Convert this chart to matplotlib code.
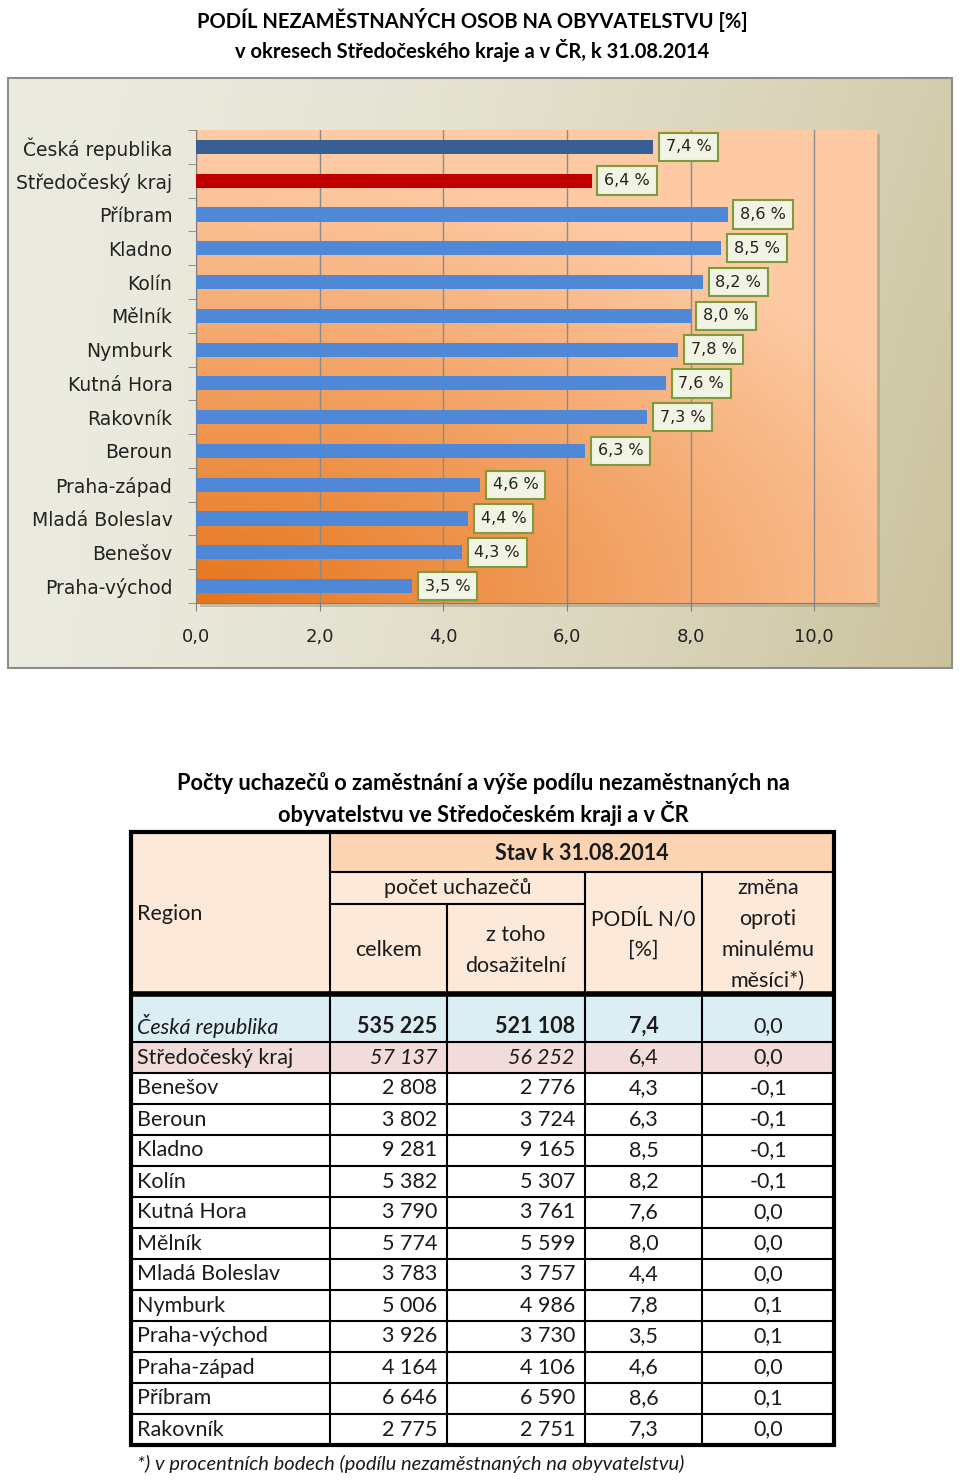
import numpy as np
import matplotlib
matplotlib.use('Agg')
import matplotlib.pyplot as plt
from matplotlib.patches import Rectangle
from matplotlib.colors import to_rgb

# data for the bar chart (top to bottom)
chart_labels = ['Česká republika', 'Středočeský kraj', 'Příbram', 'Kladno', 'Kolín', 'Mělník',
                'Nymburk', 'Kutná Hora', 'Rakovník', 'Beroun', 'Praha-západ', 'Mladá Boleslav',
                'Benešov', 'Praha-východ']
chart_values = [7.4, 6.4, 8.6, 8.5, 8.2, 8.0, 7.8, 7.6, 7.3, 6.3, 4.6, 4.4, 4.3, 3.5]
x_ticks = [0, 2, 4, 6, 8, 10]

# data for the table
table_regions = ['Česká republika', 'Středočeský kraj', 'Benešov', 'Beroun', 'Kladno', 'Kolín',
                 'Kutná Hora', 'Mělník', 'Mladá Boleslav', 'Nymburk', 'Praha-východ',
                 'Praha-západ', 'Příbram', 'Rakovník']
table_celkem = [535225, 57137, 2808, 3802, 9281, 5382, 3790, 5774, 3783, 5006, 3926, 4164, 6646, 2775]
table_dosaz = [521108, 56252, 2776, 3724, 9165, 5307, 3761, 5599, 3757, 4986, 3730, 4106, 6590, 2751]
table_podil = [7.4, 6.4, 4.3, 6.3, 8.5, 8.2, 7.6, 8.0, 4.4, 7.8, 3.5, 4.6, 8.6, 7.3]
table_zmena = [0.0, 0.0, -0.1, -0.1, -0.1, -0.1, 0.0, 0.0, 0.0, 0.1, 0.1, 0.0, 0.1, 0.0]

W, H = 960, 1481
LATO = ['Lato', 'DejaVu Sans']


def fmt_int(v):
    return f"{v:,}".replace(',', ' ')


def fmt_dec(v):
    return f"{v:.1f}".replace('.', ',')


def fig_rect(x0, y0, x1, y1):
    # pixel box (top-left origin) -> figure fraction
    return [x0 / W, 1 - y1 / H, (x1 - x0) / W, (y1 - y0) / H]


fig = plt.figure(figsize=(W / 100, H / 100), dpi=100)
fig.patch.set_facecolor('white')

# background axes in pixel coordinates
bg = fig.add_axes([0, 0, 1, 1], zorder=0)
bg.set_xlim(0, W)
bg.set_ylim(H, 0)
bg.axis('off')

# ---- chart frame with khaki gradient
gx, gy = np.meshgrid(np.linspace(0, 1, 200), np.linspace(0, 1, 120))
t = np.clip(0.75 * gx ** 1.6 + 0.25 * gy * gx, 0, 1)
c0 = np.array(to_rgb('#ecebe0'))
c1 = np.array(to_rgb('#cbc29c'))
frame = c0[None, None, :] * (1 - t[..., None]) + c1[None, None, :] * t[..., None]
bg.imshow(frame, extent=[8, 952, 668, 78], aspect='auto', zorder=1)
bg.add_patch(Rectangle((8, 78), 944, 590, fill=False, ec='#8c8c8c', lw=1.5, zorder=2))
# plot area shadow
bg.add_patch(Rectangle((200, 134), 680, 473, fc='#9a9478', ec='none', alpha=0.5, zorder=2))

bg.text(472, 20, 'PODÍL NEZAMĚSTNANÝCH OSOB NA OBYVATELSTVU [%]', ha='center', va='center',
        fontsize=14.5, fontweight='bold', family=LATO)
bg.text(472, 50, 'v okresech Středočeského kraje a v ČR, k 31.08.2014', ha='center', va='center',
        fontsize=14.5, fontweight='bold', family=LATO)

# ---- bar chart
ax = fig.add_axes(fig_rect(196, 130, 876, 603), zorder=1)
ax.set_facecolor('none')
px, py = np.meshgrid(np.linspace(0, 1, 200), np.linspace(1, 0, 150))
d = np.clip(np.sqrt((px * 1.1) ** 2 + (py * 1.4) ** 2) / 1.3, 0, 1)
o0 = np.array(to_rgb('#e6741a'))
o1 = np.array(to_rgb('#fdcaa4'))
orange = o0[None, None, :] * (1 - d[..., None]) + o1[None, None, :] * d[..., None]
ax.imshow(orange, extent=[0, 1, 0, 1], transform=ax.transAxes, aspect='auto', zorder=-2)

bar_colors = ['#375f94', '#c00000'] + ['#4f88d6'] * (len(chart_values) - 2)
ypos = np.arange(len(chart_labels))
ax.barh(ypos, chart_values, height=0.42, color=bar_colors, zorder=3)
for y, v in zip(ypos, chart_values):
    ax.annotate(fmt_dec(v) + ' %', (v, y), xytext=(9, 0), textcoords='offset points',
                ha='left', va='center', fontsize=11.5, color='#222222', zorder=4,
                bbox=dict(boxstyle='square,pad=0.42', fc='#f1f3e3', ec='#7d9a3c', lw=1.5))

ax.set_xlim(0, 11)
ax.set_ylim(len(chart_labels) - 0.5, -0.5)
ax.set_xticks(x_ticks)
ax.set_xticklabels([fmt_dec(v) for v in x_ticks], fontsize=13, color='#222222')
ax.set_yticks(ypos)
ax.set_yticklabels(chart_labels, fontsize=13.5, color='#222222')
ax.set_yticks(np.arange(-0.5, len(chart_labels), 1), minor=True)
ax.tick_params(axis='y', which='major', length=0, pad=17)
ax.tick_params(axis='y', which='minor', length=6, color='#808080', direction='out')
ax.tick_params(axis='x', length=6, color='#808080', pad=12)
ax.xaxis.grid(True, color='#8a8a8a', lw=1)
ax.set_axisbelow(True)
for s in ['top', 'right']:
    ax.spines[s].set_visible(False)
for s in ['left', 'bottom']:
    ax.spines[s].set_color('#808080')

# ---- table
bg.text(483, 783, 'Počty uchazečů o zaměstnání a výše podílu nezaměstnaných na', ha='center',
        va='center', fontsize=15.7, fontweight='bold', family=LATO)
bg.text(483, 813, 'obyvatelstvu ve Středočeském kraji a v ČR', ha='center',
        va='center', fontsize=15.7, fontweight='bold', family=LATO)

cx = [131, 330, 447, 585, 702, 834]
top, h1, h2, hb = 832, 872, 904, 994
row_edges = [hb, 1042] + [1042 + 31 * (k + 1) for k in range(len(table_regions) - 1)]
bottom = row_edges[-1]

bg.add_patch(Rectangle((cx[0], top), cx[1] - cx[0], hb - top, fc='#fde9d9', ec='none', zorder=1))
bg.add_patch(Rectangle((cx[1], top), cx[5] - cx[1], h1 - top, fc='#fbd4b4', ec='none', zorder=1))
bg.add_patch(Rectangle((cx[1], h1), cx[5] - cx[1], hb - h1, fc='#fde9d9', ec='none', zorder=1))
row_fill = ['#daeef3', '#f2dcdb'] + ['white'] * (len(table_regions) - 2)
for i, fc in enumerate(row_fill):
    bg.add_patch(Rectangle((cx[0], row_edges[i]), cx[5] - cx[0], row_edges[i + 1] - row_edges[i],
                           fc=fc, ec='none', zorder=1))

lk = dict(color='black', zorder=3, solid_capstyle='butt')
# header lines
bg.plot([cx[1], cx[5]], [h1, h1], lw=1.5, **lk)
bg.plot([cx[1], cx[3]], [h2, h2], lw=1.5, **lk)
bg.plot([cx[1], cx[1]], [top, bottom], lw=1.5, **lk)
bg.plot([cx[2], cx[2]], [h2, bottom], lw=1.5, **lk)
bg.plot([cx[3], cx[3]], [h1, bottom], lw=1.5, **lk)
bg.plot([cx[4], cx[4]], [h1, bottom], lw=1.5, **lk)
bg.plot([cx[0], cx[5]], [hb, hb], lw=4, **lk)
for yb in row_edges[1:-1]:
    bg.plot([cx[0], cx[5]], [yb, yb], lw=1.5, **lk)
bg.add_patch(Rectangle((cx[0], top), cx[5] - cx[0], bottom - top, fill=False, ec='black',
                       lw=3, zorder=4))

tk = dict(fontsize=15.5, family=LATO, color='#1a1a1a', zorder=5, va='center')
bg.text((cx[1] + cx[5]) / 2, (top + h1) / 2 + 1, 'Stav k 31.08.2014', ha='center',
        fontweight='bold', **tk)
bg.text(cx[0] + 6, 914, 'Region', ha='left', **tk)
bg.text((cx[1] + cx[3]) / 2, (h1 + h2) / 2, 'počet uchazečů', ha='center', **tk)
bg.text((cx[1] + cx[2]) / 2, 950, 'celkem', ha='center', **tk)
bg.text((cx[2] + cx[3]) / 2, 935, 'z toho', ha='center', **tk)
bg.text((cx[2] + cx[3]) / 2, 966, 'dosažitelní', ha='center', **tk)
tk_small = dict(tk, fontsize=15)
bg.text((cx[3] + cx[4]) / 2, 919, 'PODÍL N/0', ha='center', **tk_small)
bg.text((cx[3] + cx[4]) / 2, 950, '[%]', ha='center', **tk)
for yy, s in zip([888, 919, 950, 981], ['změna', 'oproti', 'minulému', 'měsíci*)']):
    bg.text((cx[4] + cx[5]) / 2, yy, s, ha='center', **tk)

for i, reg in enumerate(table_regions):
    yc = row_edges[i + 1] - 15.5
    st_reg = 'italic' if i == 0 else 'normal'
    st_num = 'italic' if i == 1 else 'normal'
    wt = 'bold' if i == 0 else 'normal'
    bg.text(cx[0] + 6, yc, reg, ha='left', style=st_reg, **tk)
    bg.text(cx[2] - 10, yc, fmt_int(table_celkem[i]), ha='right', style=st_num, fontweight=wt, **tk)
    bg.text(cx[3] - 10, yc, fmt_int(table_dosaz[i]), ha='right', style=st_num, fontweight=wt, **tk)
    bg.text((cx[3] + cx[4]) / 2, yc, fmt_dec(table_podil[i]), ha='center', fontweight=wt, **tk)
    bg.text((cx[4] + cx[5]) / 2, yc, fmt_dec(table_zmena[i]), ha='center', **tk)

bg.text(137, 1464, '*) v procentních bodech (podílu nezaměstnaných na obyvatelstvu)', ha='left',
        va='center', fontsize=14.5, style='italic', family=LATO, color='#1a1a1a')

fig.savefig('out.png', dpi=100, facecolor='white')
